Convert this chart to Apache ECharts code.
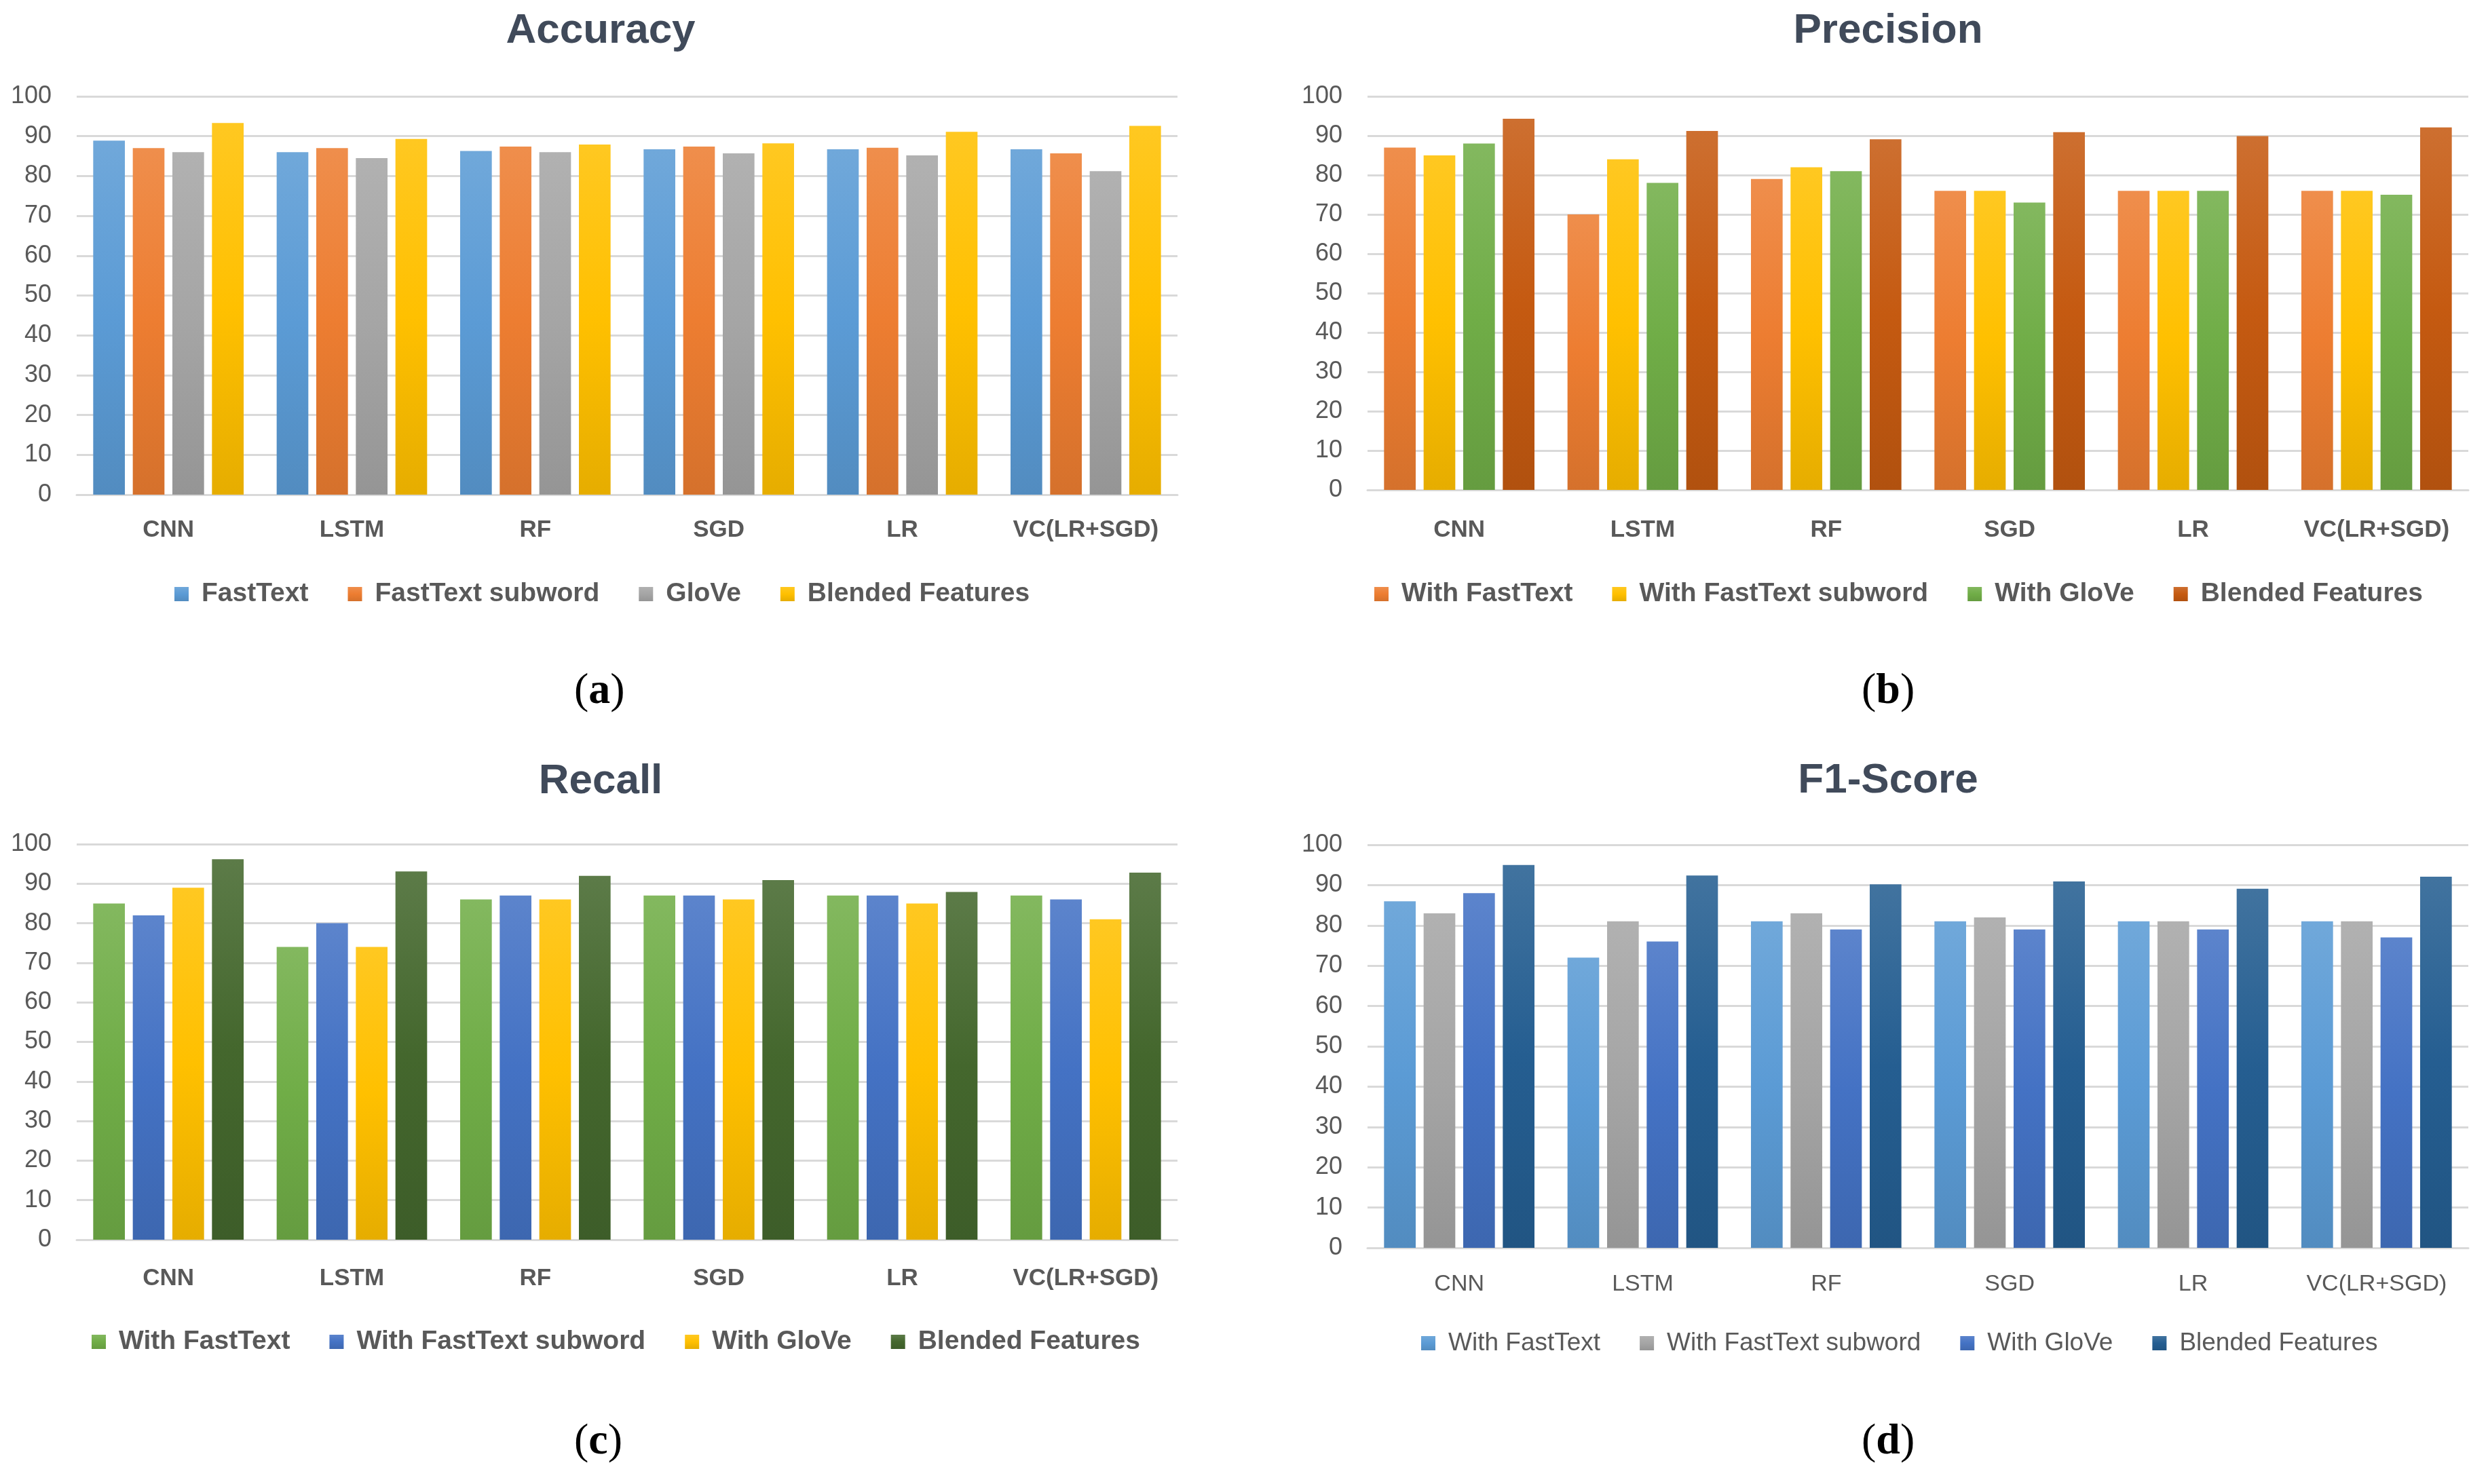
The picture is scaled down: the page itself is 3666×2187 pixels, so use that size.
<!DOCTYPE html>
<html>
<head>
<meta charset="utf-8">
<script src="https://cdn.jsdelivr.net/npm/echarts@6/dist/echarts.min.js"></script>
<style>
html,body{margin:0;padding:0;background:#fff;}
#wrap{position:relative;width:3666px;height:2187px;}
.p{position:absolute;width:1833px;height:1094px;}
</style>
</head>
<body>
<div id="wrap">
<div class="p" id="pa" style="left:0;top:0"></div>
<div class="p" id="pb" style="left:1833px;top:0"></div>
<div class="p" id="pc" style="left:0;top:1093px"></div>
<div class="p" id="pd" style="left:1833px;top:1093px"></div>
</div>
<script>
// ---------- data ----------
const categories = ['CNN', 'LSTM', 'RF', 'SGD', 'LR', 'VC(LR+SGD)'];
const yTicks = [0, 10, 20, 30, 40, 50, 60, 70, 80, 90, 100];

const accNames = ['FastText', 'FastText subword', 'GloVe', 'Blended Features'];
const accFastText = [88.9, 86.0, 86.3, 86.7, 86.7, 86.7];
const accSubword  = [87.0, 87.0, 87.4, 87.4, 87.1, 85.7];
const accGloVe    = [86.0, 84.5, 86.0, 85.7, 85.2, 81.2];
const accBlended  = [93.3, 89.3, 87.9, 88.2, 91.1, 92.6];

const withNames = ['With FastText', 'With FastText subword', 'With GloVe', 'Blended Features'];
const precFastText = [87, 70, 79, 76, 76, 76];
const precSubword  = [85, 84, 82, 76, 76, 76];
const precGloVe    = [88, 78, 81, 73, 76, 75];
const precBlended  = [94.3, 91.2, 89.1, 90.9, 89.9, 92.1];

const recFastText = [85, 74, 86, 87, 87, 87];
const recSubword  = [82, 80, 87, 87, 87, 86];
const recGloVe    = [89, 74, 86, 86, 85, 81];
const recBlended  = [96.2, 93.1, 92.0, 90.9, 87.9, 92.8];

const f1FastText = [86, 72, 81, 81, 81, 81];
const f1Subword  = [83, 81, 83, 82, 81, 81];
const f1GloVe    = [88, 76, 79, 79, 79, 77];
const f1Blended  = [95.0, 92.4, 90.2, 90.9, 89.1, 92.1];

// ---------- styles ----------
const FONT = "'Liberation Sans', Arial, sans-serif";
const TXT = '#595959';
const GRIDC = '#D9D9D9';

function hex2rgb(h){h=h.replace('#','');return [parseInt(h.substr(0,2),16),parseInt(h.substr(2,2),16),parseInt(h.substr(4,2),16)];}
function rgb2hex(a){return '#'+a.map(v=>Math.max(0,Math.min(255,Math.round(v))).toString(16).padStart(2,'0')).join('');}
function mix(h, t, k){const a=hex2rgb(h), b=hex2rgb(t);return rgb2hex(a.map((v,i)=>v+(b[i]-v)*k));}
function grad(c){
  return new echarts.graphic.LinearGradient(0,0,0,1,[
    {offset:0, color: mix(c,'#ffffff',0.13)},
    {offset:0.5, color: c},
    {offset:1, color: mix(c,'#000000',0.1)}
  ]);
}

function build(el, cfg){
  const chart = echarts.init(document.getElementById(el), null, {renderer:'canvas'});
  const series = cfg.names.map((n,i)=>({
    name: n, type: 'bar', data: cfg.data[i],
    barGap: '25%', barCategoryGap: '18%',
    itemStyle: {color: grad(cfg.colors[i])},
    emphasis: {disabled: true}
  }));
  chart.setOption({
    animation: false,
    textStyle: {fontFamily: FONT},
    title: {
      text: cfg.title, left: cfg.titleX, top: cfg.titleTop, textAlign: 'center',
      textStyle: {fontFamily: FONT, fontSize: 62, fontWeight: 'bold', color: '#404A5A'}
    },
    legend: {
      data: cfg.names, left: cfg.legLeft, top: cfg.legTop, width: 1640,
      itemWidth: 21, itemHeight: 21, itemGap: 58, icon: 'rect',
      textStyle: {fontFamily: FONT, fontSize: cfg.bold ? 39 : 37, fontWeight: cfg.bold ? 'bold' : 'normal', color: TXT, padding:[0,0,0,14]}
    },
    grid: {left: cfg.grid[0], top: cfg.grid[1], width: cfg.grid[2], height: cfg.grid[3], containLabel: false},
    xAxis: {
      type: 'category', data: categories,
      axisLine: {show: true, lineStyle: {color: GRIDC, width: 3}},
      axisTick: {show: false},
      axisLabel: {interval: 0, fontFamily: FONT, fontSize: cfg.bold ? 35 : 34, fontWeight: cfg.bold ? 'bold' : 'normal', color: TXT, margin: cfg.xMargin}
    },
    yAxis: {
      type: 'value', min: yTicks[0], max: yTicks[yTicks.length-1], interval: yTicks[1]-yTicks[0],
      axisLine: {show: false}, axisTick: {show: false},
      splitLine: {lineStyle: {color: GRIDC, width: 3}},
      axisLabel: {fontFamily: FONT, fontSize: 36, color: TXT, margin: 37}
    },
    graphic: [{
      type: 'text', left: cfg.lab[0] - 42, top: cfg.lab[1] - 40,
      style: {
        text: '{p|(}{b|' + cfg.letter + '}{p|)}',
        rich: {
          p: {fontFamily: "'Liberation Serif', 'DejaVu Serif', serif", fontSize: 64, color: '#000'},
          b: {fontFamily: "'Liberation Serif', 'DejaVu Serif', serif", fontSize: 64, fontWeight: 'bold', color: '#000'}
        }
      }
    }],
    series: series
  });
}

build('pa', {
  title: 'Accuracy', titleX: 880, titleTop: 10,
  names: accNames, data: [accFastText, accSubword, accGloVe, accBlended],
  colors: ['#5B9BD5', '#ED7D31', '#A5A5A5', '#FFC000'],
  legLeft: 252, legTop: 851, bold: true,
  grid: [113, 142, 1622, 587], xMargin: 35, lab: [888, 1027], letter: 'a'
});
build('pb', {
  title: 'Precision', titleX: 944, titleTop: 10,
  names: withNames, data: [precFastText, precSubword, precGloVe, precBlended],
  colors: ['#ED7D31', '#FFC000', '#70AD47', '#C55A11'],
  legLeft: 187, legTop: 851, bold: true,
  grid: [182, 142, 1622, 580], xMargin: 42, lab: [952, 1027], letter: 'b'
});
build('pc', {
  title: 'Recall', titleX: 880, titleTop: 23,
  names: withNames, data: [recFastText, recSubword, recGloVe, recBlended],
  colors: ['#70AD47', '#4472C4', '#FFC000', '#44672D'],
  legLeft: 130, legTop: 860, bold: true,
  grid: [113, 151, 1622, 583], xMargin: 40, lab: [888, 1040], letter: 'c'
});
build('pd', {
  title: 'F1-Score', titleX: 944, titleTop: 22,
  names: withNames, data: [f1FastText, f1Subword, f1GloVe, f1Blended],
  colors: ['#5B9BD5', '#A5A5A5', '#4472C4', '#255E91'],
  legLeft: 256, legTop: 863, bold: false,
  grid: [182, 152, 1622, 594], xMargin: 37, lab: [952, 1040], letter: 'd'
});
</script>
</body>
</html>
